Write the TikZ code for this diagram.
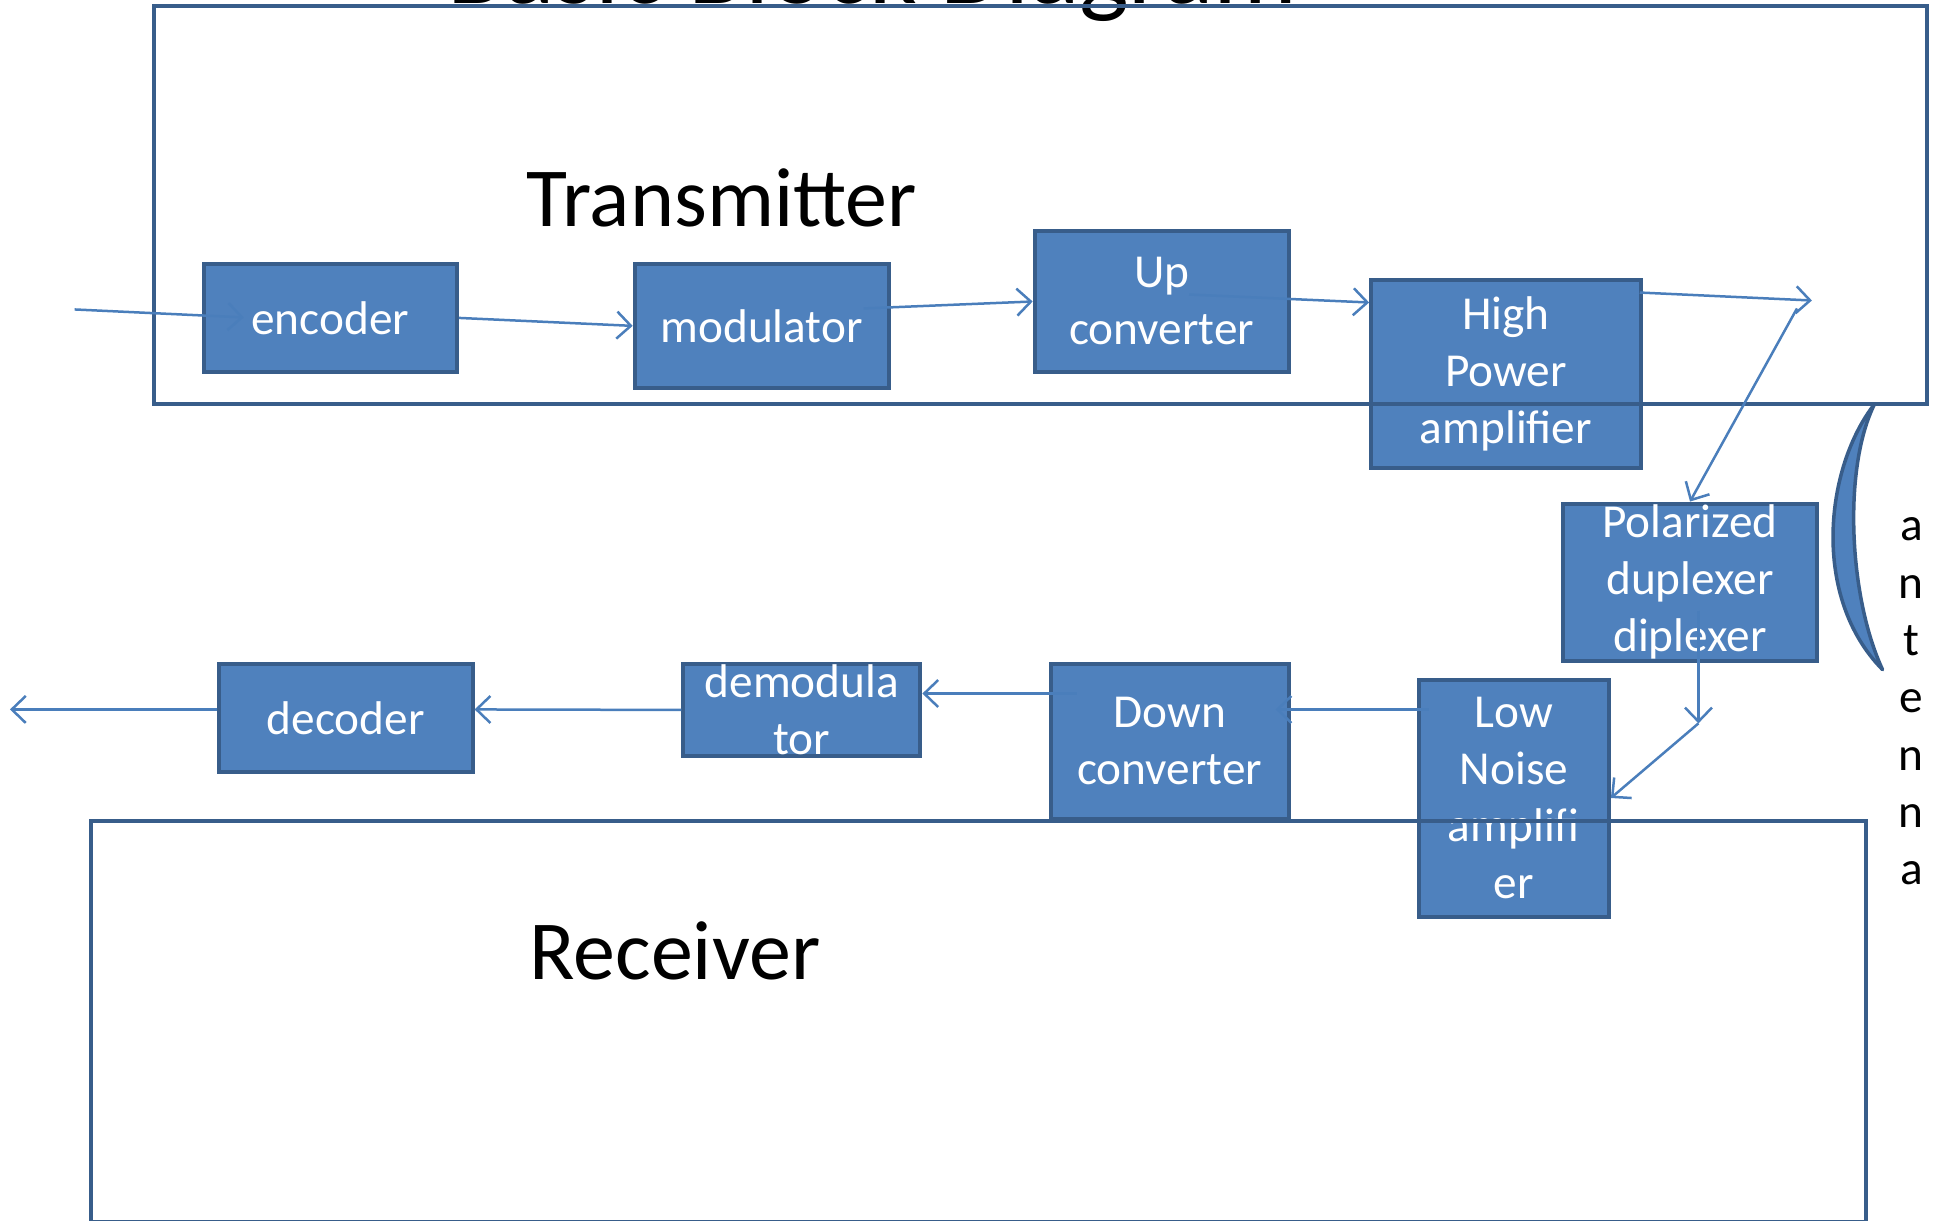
\documentclass[tikz,border=0pt]{standalone}
\usepackage{fontspec}
\setmainfont{Carlito}
\usetikzlibrary{arrows.meta,calc}
\definecolor{bfill}{HTML}{4F81BD}
\definecolor{bline}{HTML}{385D8A}
\definecolor{aline}{HTML}{4A7EBB}
\begin{document}
\begin{tikzpicture}[x=0.995pt,y=-0.995pt,
  blk/.style={draw=bline,fill=bfill,line width=4pt,text=white,align=center,inner sep=0pt,font=\fontsize{47.3}{57}\selectfont},
  frame/.style={draw=bline,line width=4pt,inner sep=0pt},
  arr/.style={draw=aline,line width=2.5pt,-{Straight Barb[length=14pt,width=27pt]}},
  big/.style={font=\fontsize{84}{100}\selectfont,text=black,inner sep=0pt,anchor=base west}]
\useasboundingbox (0,0) rectangle (1951.76,1226.13);
% title (cut off at top)
\node[font=\fontsize{105}{120}\selectfont,inner sep=0pt,anchor=base] (title) at (877,4) {Basic Block Diagram};
% blocks
\node[blk,minimum width=253pt,minimum height=108pt] (enc) at (332,319.5) {encoder};
\node[blk,minimum width=254pt,minimum height=124pt] (mod) at (765.5,327.5) {modulator};
\node[blk,minimum width=254pt,minimum height=141pt] (up) at (1167.5,303) {Up\\converter};
\node[blk,minimum width=270pt,minimum height=188pt] (hpa) at (1513.5,375.5) {High\\Power\\amplifier};
\node[blk,minimum width=254pt,minimum height=157pt] (pol) at (1698.5,585) {Polarized\\duplexer\\diplexer};
\node[blk,minimum width=190pt,minimum height=237pt] (lna) at (1521.5,802) {Low\\Noise\\amplifi\\er};
\node[blk,minimum width=238pt,minimum height=155pt] (down) at (1175.5,745) {Down\\converter};
\node[blk,minimum width=237pt,minimum height=92pt] (demod) at (806,713.5) {demodula\\tor};
\node[blk,minimum width=254pt,minimum height=108pt] (dec) at (347.5,721.5) {decoder};
% containers
\node[frame,minimum width=1773pt,minimum height=398pt] (tx) at (1046,206) {};
\node[frame,minimum width=1775pt,minimum height=401pt] (rx) at (983,1026.5) {};
\node[big] (txl) at (529,228) {Transmitter};
\node[big] (rxl) at (532,984) {Receiver};
% connector points
\coordinate (in) at (75,311);
\coordinate (encin) at (245,319);
\coordinate (modout) at (868,310);
\coordinate (upout) at (1195,296);
\coordinate (hpain) at (1376,304);
\coordinate (hpaout) at (1648,294);
\coordinate (j1) at (1821,302);
\coordinate (j2) at (1806,310);
\coordinate (polout) at (1707,614);
\coordinate (j3) at (1707,727);
\coordinate (lnaout) at (1436,713);
\coordinate (downin) at (1282,713);
\coordinate (downout) at (1082,697);
\coordinate (demin) at (927,697);
\coordinate (decin) at (477,713);
\coordinate (decout) at (218,713);
\coordinate (out) at (10,713);
% connectors
\draw[arr] (in) -- (encin);
\draw[arr] (enc.east) -- (mod.west);
\draw[arr] (modout) -- (up.west);
\draw[arr] (upout) -- (hpain);
\draw[arr] (hpaout) -- (j1);
\draw[arr] (j2) -- (pol.north);
\draw[arr] (polout) -- (j3);
\draw[arr] (j3) -- (lna.east);
\draw[arr] (lnaout) -- (downin);
\draw[arr] (downout) -- (demin);
\draw[arr] (demod.west) -- (decin);
\draw[arr] (decout) -- (out);
% antenna
\draw[draw=bline,fill=bfill,line width=3.5pt,line join=round]
  (1884,406) .. controls (1834,470) and (1820,600) .. (1892,673)
  .. controls (1858,600) and (1852,470) .. (1884,406) -- cycle;
\node[font=\fontsize{47.3}{57.3}\selectfont,align=center,inner sep=0pt] (ant) at (1921,705) {a\\n\\t\\e\\n\\n\\a};
\end{tikzpicture}
\end{document}
